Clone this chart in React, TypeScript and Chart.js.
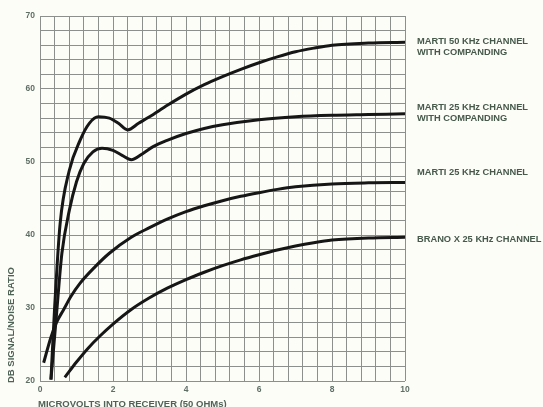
import React, { useEffect, useRef } from "react";
import { Chart, registerables } from "chart.js";

Chart.register(...registerables);

// ---- data ----
const marti50CompX = [0.3, 0.4, 0.55, 0.8, 1.1, 1.35, 1.6, 1.9, 2.15, 2.4, 2.7, 3.0, 3.5, 4.0, 4.5, 5.0, 5.5, 6.0, 6.5, 7.0, 7.5, 8.0, 9.0, 10.0];
const marti50CompY = [20.2, 30, 41.5, 48.8, 53, 55.3, 56.2, 56, 55.3, 54.4, 55.3, 56.2, 57.8, 59.3, 60.6, 61.7, 62.7, 63.6, 64.4, 65.1, 65.6, 66.0, 66.3, 66.4];

const marti25CompX = [0.3, 0.45, 0.6, 0.8, 1.0, 1.2, 1.45, 1.7, 2.0, 2.25, 2.5, 2.8, 3.1, 3.5, 4.0, 4.5, 5.0, 6.0, 7.0, 8.0, 9.0, 10.0];
const marti25CompY = [20.2, 29, 37.5, 43.3, 47.3, 49.8, 51.4, 51.9, 51.6, 50.9, 50.3, 51.1, 52.1, 53.0, 53.9, 54.6, 55.1, 55.8, 56.2, 56.4, 56.5, 56.6];

const marti25X = [0.1, 0.3, 0.45, 0.65, 0.85, 1.1, 1.5, 1.9, 2.5, 3.0, 3.5, 4.0, 4.5, 5.0, 5.5, 6.0, 6.5, 7.0, 8.0, 9.0, 10.0];
const marti25Y = [22.5, 26, 28, 29.8, 31.6, 33.4, 35.6, 37.5, 39.7, 41.0, 42.2, 43.2, 44.0, 44.7, 45.3, 45.8, 46.25, 46.6, 47.0, 47.15, 47.2];

const branoX = [0.68, 1.0, 1.3, 1.65, 2.0, 2.5, 3.0, 3.5, 4.0, 4.5, 5.0, 5.5, 6.0, 6.5, 7.0, 7.5, 8.0, 9.0, 10.0];
const branoY = [20.5, 22.6, 24.4, 26.2, 27.8, 29.8, 31.4, 32.75, 33.9, 34.9, 35.8, 36.6, 37.3, 37.95, 38.5, 38.95, 39.3, 39.6, 39.7];

const seriesLabels = [
  ["MARTI 50 KHz CHANNEL", "WITH COMPANDING"],
  ["MARTI 25 KHz CHANNEL", "WITH COMPANDING"],
  ["MARTI 25 KHz CHANNEL"],
  ["BRANO X 25 KHz CHANNEL"],
];
const labelAnchorDb = [66.48, 57.5, 48.53, 39.41];

const xTickLabels = [0, 2, 4, 6, 8, 10];
const yTickLabels = [20, 30, 40, 50, 60, 70];

const xTitle = "MICROVOLTS INTO RECEIVER (50 OHMs)";
const yTitle = "DB SIGNAL/NOISE RATIO";

const toPoints = (xs: number[], ys: number[]) => xs.map((x, i) => ({ x, y: ys[i] }));

const near = (v: number, list: number[]) => list.some((t) => Math.abs(t - v) < 1e-6);

const textPlugin = {
  id: "customText",
  beforeDraw(chart: any) {
    const { ctx, width, height } = chart;
    ctx.save();
    ctx.fillStyle = "#fdfdf8";
    ctx.fillRect(0, 0, width, height);
    ctx.restore();
  },
  afterDraw(chart: any) {
    const { ctx, chartArea, scales } = chart;
    const yScale = scales.y;
    ctx.save();
    // series labels on the right
    ctx.font = 'bold 9.3px "Liberation Sans", Arial, sans-serif';
    ctx.fillStyle = "#46594b";
    ctx.textAlign = "left";
    ctx.textBaseline = "middle";
    seriesLabels.forEach((lines, i) => {
      const y0 = yScale.getPixelForValue(labelAnchorDb[i]);
      lines.forEach((line, j) => {
        ctx.fillText(line, chartArea.right + 12, y0 + j * 11);
      });
    });
    // axis titles
    ctx.font = 'bold 9.5px "Liberation Sans", Arial, sans-serif';
    ctx.fillStyle = "#4f6256";
    ctx.textAlign = "left";
    ctx.textBaseline = "middle";
    ctx.fillText(xTitle, chartArea.left - 2, chartArea.bottom + 23);
    ctx.translate(11, chartArea.bottom + 2);
    ctx.rotate(-Math.PI / 2);
    ctx.fillText(yTitle, 0, 0);
    ctx.restore();
  },
};

export default function App() {
  const canvasRef = useRef<HTMLCanvasElement | null>(null);

  useEffect(() => {
    if (!canvasRef.current) return;
    const lineStyle = {
      borderColor: "#161616",
      borderWidth: 3,
      pointRadius: 0,
      fill: false,
      cubicInterpolationMode: "monotone" as const,
    };
    const chart = new Chart(canvasRef.current, {
      type: "line",
      data: {
        datasets: [
          { label: seriesLabels[0].join(" "), data: toPoints(marti50CompX, marti50CompY), ...lineStyle },
          { label: seriesLabels[1].join(" "), data: toPoints(marti25CompX, marti25CompY), ...lineStyle },
          { label: seriesLabels[2].join(" "), data: toPoints(marti25X, marti25Y), ...lineStyle },
          { label: seriesLabels[3].join(" "), data: toPoints(branoX, branoY), ...lineStyle },
        ],
      },
      options: {
        animation: false,
        responsive: false,
        maintainAspectRatio: false,
        layout: { padding: { left: 0, right: 138, top: 16, bottom: 0 } },
        plugins: { legend: { display: false }, tooltip: { enabled: false } },
        scales: {
          x: {
            type: "linear",
            min: 0,
            max: 10,
            afterFit: (s: any) => {
              s.height = 26;
            },
            border: { display: false },
            grid: { color: "#8c908c", lineWidth: 1, drawTicks: false },
            ticks: {
              stepSize: 0.4,
              autoSkip: false,
              maxTicksLimit: 100,
              maxRotation: 0,
              padding: 4,
              color: "#5f6f66",
              font: { family: '"Liberation Sans", Arial, sans-serif', size: 8.5, weight: "bold" },
              callback: (v: any) => {
                const n = Number(v);
                return near(n, xTickLabels) ? String(Math.round(n)) : "";
              },
            },
          },
          y: {
            type: "linear",
            min: 20,
            max: 70,
            afterFit: (s: any) => {
              s.width = 40;
            },
            border: { display: false },
            grid: { color: "#8c908c", lineWidth: 1, drawTicks: false },
            ticks: {
              stepSize: 2,
              autoSkip: false,
              maxTicksLimit: 100,
              padding: 5,
              color: "#5f6f66",
              font: { family: '"Liberation Sans", Arial, sans-serif', size: 8.5, weight: "bold" },
              callback: (v: any) => {
                const n = Number(v);
                return near(n, yTickLabels) ? String(Math.round(n)) : "";
              },
            },
          },
        },
      },
      plugins: [textPlugin],
    });
    return () => chart.destroy();
  }, []);

  return (
    <div style={{ position: "fixed", left: 0, top: 0, width: 543, height: 407 }}>
      <canvas ref={canvasRef} width={543} height={407} style={{ display: "block", width: 543, height: 407 }} />
    </div>
  );
}
